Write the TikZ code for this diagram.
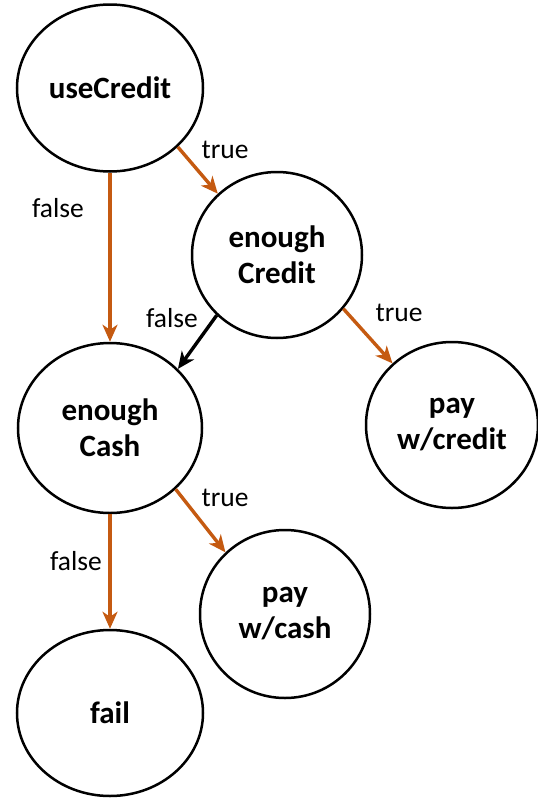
\documentclass[tikz,border=0pt]{standalone}
\usepackage{fontspec}
\setmainfont{Carlito}
\usetikzlibrary{shapes.geometric,arrows.meta}
\definecolor{arr}{HTML}{C55A11}
\begin{document}
\begin{tikzpicture}[x=1pt,y=-1pt,
  state/.style={draw,line width=2.5pt,ellipse,inner sep=0pt,font=\fontsize{31}{36}\selectfont\bfseries,align=center},
  edge/.style={line width=3.4pt,-{Stealth[length=17pt,width=15pt,inset=5pt]}},
  lab/.style={font=\fontsize{27.5}{30}\selectfont}]
\useasboundingbox (0,0) rectangle (538,798);
\node[state,minimum width=186pt,minimum height=167pt] (uc) at (110,88) {useCredit};
\node[state,minimum width=170pt,minimum height=166pt] (ec) at (277,255) {enough\\Credit};
\node[state,minimum width=184pt,minimum height=170pt] (ech) at (110,428) {enough\\Cash};
\node[state,minimum width=172pt,minimum height=166pt] (pc) at (452,425) {pay\\w/credit};
\node[state,minimum width=170pt,minimum height=168pt] (pch) at (285,614) {pay\\w/cash};
\node[state,minimum width=186pt,minimum height=166pt] (f) at (110,713) {fail};
\draw[edge,arr] (uc.south) -- (ech.north);
\draw[edge,arr] (uc.-41) -- (ec.134);
\draw[edge,black] (ec.-135) -- (ech.41);
\draw[edge,arr] (ec.-39) -- (pc.134);
\draw[edge,arr] (ech.-43) -- (pch.134);
\draw[edge,arr] (ech.south) -- (f.north);
\node[lab] (l1) at (58,208) {false};
\node[lab] (l2) at (225,150) {true};
\node[lab] (l3) at (172,318) {false};
\node[lab] (l4) at (399,313) {true};
\node[lab] (l5) at (225,498) {true};
\node[lab] (l6) at (76,561) {false};
\end{tikzpicture}
\end{document}
